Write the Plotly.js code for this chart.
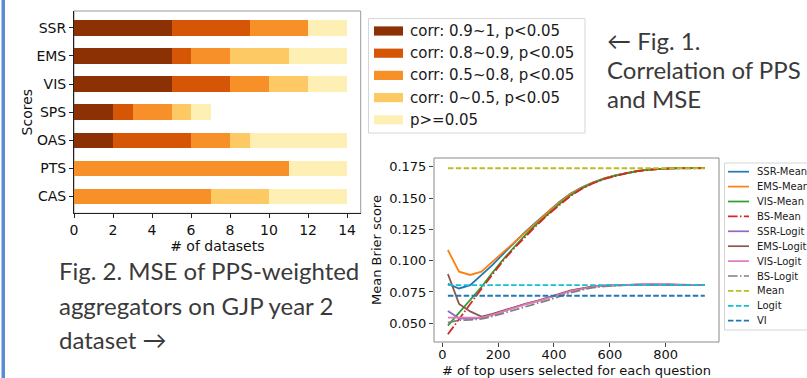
<!DOCTYPE html>
<html><head><meta charset="utf-8">
<script src="https://cdn.plot.ly/plotly-3.0.1.min.js"></script>
<style>html,body{margin:0;padding:0;background:#fff;overflow:hidden}#chart{width:807px;height:378px}</style>
</head><body><div id="chart"></div>
<script>
// ---------- Fig. 1 : correlation of PPS and MSE (stacked horizontal bars) ----------
const scoreNames = ['CAS', 'PTS', 'OAS', 'SPS', 'VIS', 'EMS', 'SSR'];
const corrLabels = ['corr: 0.9~1, p<0.05', 'corr: 0.8~0.9, p<0.05', 'corr: 0.5~0.8, p<0.05', 'corr: 0~0.5, p<0.05', 'p>=0.05'];
const corr09to1  = [0, 0, 2, 2, 5, 5, 5];
const corr08to09 = [0, 0, 4, 1, 3, 1, 4];
const corr05to08 = [7, 11, 2, 2, 2, 2, 3];
const corr0to05  = [3, 0, 1, 1, 2, 3, 0];
const notSignif  = [4, 3, 5, 1, 2, 3, 2];
const barTicks = [0, 2, 4, 6, 8, 10, 12, 14];

// ---------- Fig. 2 : MSE of PPS-weighted aggregators ----------
const topUsers = [20, 60, 100, 140, 180, 220, 260, 300, 340, 380, 420, 460, 500, 540, 580, 620, 660, 700, 740, 780, 820, 860, 900, 940];
const ssrMean  = [0.0815, 0.0778, 0.0805, 0.0886, 0.0966, 0.1059, 0.1148, 0.1235, 0.1315, 0.1395, 0.1470, 0.1535, 0.1585, 0.1625, 0.1657, 0.1681, 0.1700, 0.1716, 0.1727, 0.1734, 0.1737, 0.1738, 0.1738, 0.1738];
const emsMean  = [0.1085, 0.0912, 0.0886, 0.0912, 0.0992, 0.1070, 0.1150, 0.1230, 0.1310, 0.1390, 0.1465, 0.1532, 0.1583, 0.1623, 0.1656, 0.1680, 0.1700, 0.1716, 0.1727, 0.1734, 0.1737, 0.1738, 0.1738, 0.1738];
const visMean  = [0.0481, 0.0585, 0.0680, 0.0790, 0.0905, 0.1015, 0.1115, 0.1210, 0.1295, 0.1378, 0.1453, 0.1523, 0.1577, 0.1620, 0.1653, 0.1678, 0.1698, 0.1715, 0.1726, 0.1733, 0.1737, 0.1738, 0.1738, 0.1738];
const bsMean   = [0.0412, 0.0535, 0.0655, 0.0775, 0.0890, 0.1005, 0.1105, 0.1200, 0.1287, 0.1370, 0.1447, 0.1518, 0.1574, 0.1618, 0.1652, 0.1677, 0.1698, 0.1715, 0.1726, 0.1733, 0.1737, 0.1738, 0.1738, 0.1738];
const ssrLogit = [0.0598, 0.0540, 0.0535, 0.0545, 0.0570, 0.0600, 0.0628, 0.0655, 0.0678, 0.0702, 0.0732, 0.0758, 0.0777, 0.0792, 0.0800, 0.0804, 0.0806, 0.0808, 0.0809, 0.0810, 0.0808, 0.0806, 0.0805, 0.0805];
const emsLogit = [0.0894, 0.0655, 0.0595, 0.0553, 0.0575, 0.0603, 0.0632, 0.0658, 0.0680, 0.0705, 0.0735, 0.0762, 0.0780, 0.0794, 0.0801, 0.0805, 0.0807, 0.0809, 0.0810, 0.0811, 0.0809, 0.0807, 0.0805, 0.0805];
const visLogit = [0.0545, 0.0545, 0.0540, 0.0545, 0.0568, 0.0598, 0.0626, 0.0653, 0.0676, 0.0700, 0.0730, 0.0757, 0.0776, 0.0791, 0.0800, 0.0804, 0.0807, 0.0810, 0.0812, 0.0813, 0.0810, 0.0807, 0.0805, 0.0805];
const bsLogit  = [0.0505, 0.0525, 0.0527, 0.0535, 0.0555, 0.0582, 0.0610, 0.0638, 0.0660, 0.0685, 0.0715, 0.0745, 0.0767, 0.0785, 0.0795, 0.0801, 0.0804, 0.0806, 0.0808, 0.0809, 0.0808, 0.0806, 0.0805, 0.0805];
const baselineX = [20, 940];
const meanBase  = [0.1738, 0.1738];
const logitBase = [0.0805, 0.0805];
const viBase    = [0.0720, 0.0720];
const lineNames = ['SSR-Mean', 'EMS-Mean', 'VIS-Mean', 'BS-Mean', 'SSR-Logit', 'EMS-Logit', 'VIS-Logit', 'BS-Logit', 'Mean', 'Logit', 'VI'];
const lineTicksX = [0, 200, 400, 600, 800];
const lineTicksY = [0.050, 0.075, 0.100, 0.125, 0.150, 0.175];

const fig1Lines = ['\u2190 Fig. 1.', 'Correlation of PPS', 'and MSE'];
const fig2Lines = ['Fig. 2. MSE of PPS-weighted', 'aggregators on GJP year 2', 'dataset \u2192'];

// ---------- styles ----------
const barColors = ['#8c3104', '#d65608', '#f79028', '#fdc965', '#fef0b4'];
const lineColors = ['#1f77b4', '#ff7f0e', '#2ca02c', '#d62728', '#9467bd', '#8c564b', '#e377c2', '#7f7f7f', '#bcbd22', '#17becf', '#1f77b4'];
const DASH = '5.5px,2.4px', DASHDOT = '9.6px,2.4px,1.5px,2.4px';
const lineDash = ['solid', 'solid', 'solid', DASHDOT, 'solid', 'solid', 'solid', DASHDOT, DASH, DASH, DASH];

const W = 807, H = 378;
const px = v => v / W, py = v => 1 - v / H;
const MPL = 'DejaVu Sans';
const SLIDE = 'Lato, "Open Sans", sans-serif';

const barSeries = [corr09to1, corr08to09, corr05to08, corr0to05, notSignif];
const traces = barSeries.map((vals, i) => ({
  type: 'bar', orientation: 'h', x: vals, y: scoreNames, name: corrLabels[i],
  marker: {color: barColors[i], line: {width: 0}}, width: 0.55,
  xaxis: 'x', yaxis: 'y', showlegend: false, hoverinfo: 'x+y+name'
}));

const lineY = [ssrMean, emsMean, visMean, bsMean, ssrLogit, emsLogit, visLogit, bsLogit, meanBase, logitBase, viBase];
lineY.forEach((ys, i) => {
  traces.push({
    type: 'scatter', mode: 'lines', x: i < 8 ? topUsers : baselineX, y: ys, name: lineNames[i],
    line: {color: lineColors[i], width: i < 8 ? 1.8 : 1.9, dash: lineDash[i]},
    xaxis: 'x2', yaxis: 'y2', showlegend: false
  });
});

const shapes = [];
const annotations = [];
// slide accent bar
shapes.push({type: 'rect', xref: 'paper', yref: 'paper', x0: px(1.5), x1: px(5), y0: 0, y1: 1, fillcolor: '#5b8bd6', line: {width: 0}, layer: 'below'});
// light frames (top/right spines)
shapes.push({type: 'rect', xref: 'x domain', yref: 'y domain', x0: 0, x1: 1, y0: 0, y1: 1, line: {color: '#9a9a9a', width: 1}, layer: 'below'});
shapes.push({type: 'rect', xref: 'x2 domain', yref: 'y2 domain', x0: 0, x1: 1, y0: 0, y1: 1, line: {color: '#8a8a8a', width: 1}, layer: 'below'});

// Fig.1 legend (manual, matplotlib style)
shapes.push({type: 'rect', xref: 'paper', yref: 'paper', x0: px(368.5), x1: px(585), y0: py(18.5), y1: py(133), line: {color: '#d6d6d6', width: 1}, fillcolor: 'rgba(255,255,255,0.9)'});
corrLabels.forEach((lab, i) => {
  const cy = 31 + 22.2 * i;
  shapes.push({type: 'rect', xref: 'paper', yref: 'paper', x0: px(374), x1: px(403), y0: py(cy + 4.6), y1: py(cy - 4.6), fillcolor: barColors[i], line: {width: 0}});
  annotations.push({xref: 'paper', yref: 'paper', x: px(408), y: py(cy), xanchor: 'left', yanchor: 'middle', showarrow: false, text: lab, font: {family: MPL, size: 15, color: '#1a1a1a'}});
});

// Fig.2 legend (manual)
shapes.push({type: 'rect', xref: 'paper', yref: 'paper', x0: px(724.5), x1: px(840), y0: py(163), y1: py(330), line: {color: '#d6d6d6', width: 1}, fillcolor: 'rgba(255,255,255,0.9)'});
lineNames.forEach((nm, i) => {
  const cy = 171.7 + 14.9 * i;
  shapes.push({type: 'line', xref: 'paper', yref: 'paper', x0: px(728), x1: px(749), y0: py(cy), y1: py(cy), line: {color: lineColors[i], width: 1.7, dash: lineDash[i]}});
  annotations.push({xref: 'paper', yref: 'paper', x: px(755), y: py(cy), xanchor: 'left', yanchor: 'middle', showarrow: false, text: nm, font: {family: MPL, size: 10, color: '#1a1a1a'}});
});

// slide texts
const fig1Y = [40, 69, 98];
fig1Lines.forEach((t, i) => annotations.push({xref: 'paper', yref: 'paper', x: px(605), y: py(fig1Y[i]), xanchor: 'left', yanchor: 'middle', showarrow: false, text: t, font: {family: SLIDE, size: 24, color: '#3a3a3a'}}));
const fig2Y = [270, 305, 339];
fig2Lines.forEach((t, i) => annotations.push({xref: 'paper', yref: 'paper', x: px(57), y: py(fig2Y[i]), xanchor: 'left', yanchor: 'middle', showarrow: false, text: t, font: {family: SLIDE, size: 24, color: '#3a3a3a'}}));

const tickFont14 = {family: MPL, size: 14, color: '#111'};
const tickFont13 = {family: MPL, size: 13, color: '#111'};

const layout = {
  width: W, height: H, margin: {l: 0, r: 0, t: 0, b: 0},
  paper_bgcolor: '#fff', plot_bgcolor: 'rgba(0,0,0,0)',
  barmode: 'stack', bargap: 0.4, showlegend: false,
  xaxis: {domain: [px(74), px(360.7)], range: [0, 14.7], tickvals: barTicks, ticks: 'outside', ticklen: 4, tickcolor: '#222',
    showline: true, linecolor: '#222', linewidth: 1, showgrid: false, zeroline: false, tickfont: tickFont14,
    title: {text: '# of datasets', font: {family: MPL, size: 14, color: '#111'}, standoff: 1}, anchor: 'y', fixedrange: true},
  yaxis: {domain: [py(213.3), py(11)], type: 'category', categoryorder: 'array', categoryarray: scoreNames, range: [-0.6, 6.6],
    ticks: 'outside', ticklen: 4, tickcolor: '#222', showline: true, linecolor: '#222', linewidth: 1, showgrid: false, zeroline: false,
    tickfont: tickFont14, title: {text: 'Scores', font: {family: MPL, size: 14, color: '#111'}, standoff: 0}, anchor: 'x', fixedrange: true},
  xaxis2: {domain: [px(434), px(719)], range: [-29.7, 990.9], tickvals: lineTicksX, ticks: 'outside', ticklen: 3.5, tickcolor: '#444',
    ticklabelstandoff: -3,
    showline: false, showgrid: false, zeroline: false, tickfont: tickFont13,
    title: {text: '# of top users selected for each question', font: {family: MPL, size: 13, color: '#111'}, standoff: 4}, anchor: 'y2', fixedrange: true},
  yaxis2: {domain: [py(342), py(158)], range: [0.03508, 0.18194], tickvals: lineTicksY, tickformat: '.3f', ticks: 'outside', ticklen: 4, tickcolor: '#444',
    showline: false, showgrid: false, zeroline: false, tickfont: tickFont13,
    title: {text: 'Mean Brier score', font: {family: MPL, size: 13, color: '#111'}, standoff: 4}, anchor: 'x2', fixedrange: true},
  shapes: shapes, annotations: annotations
};

Plotly.newPlot('chart', traces, layout, {displayModeBar: false, staticPlot: true});
</script></body></html>
